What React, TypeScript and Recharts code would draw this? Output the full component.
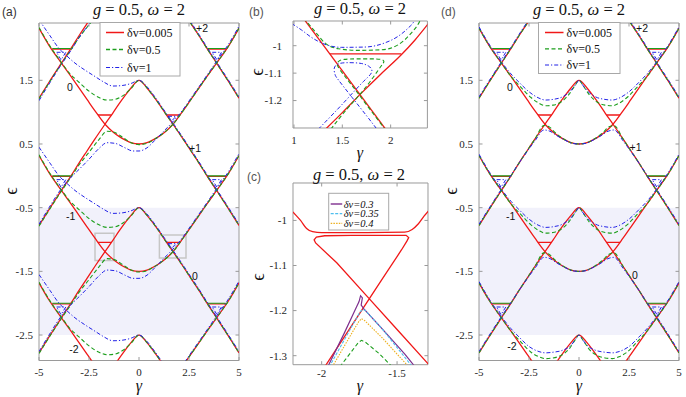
import React from 'react';
import { LineChart, Line, XAxis, YAxis, ReferenceArea } from 'recharts';

type P = [number, number];

// ---------- panel (a)/(d): shared gamma grid and red (dv=0.005) bands ----------
const gammaGrid = [-5, -4.5, -3.88, -3.4, -3, -2.6, -2.2, -1.7, -1.3, -1, -0.7, -0.4, 0, 0.4, 0.7, 1, 1.3, 1.7, 2.2, 2.6, 3, 3.4, 3.88, 4.5, 5];
const redU0 = [2.32, 2.05, 1.77, 1.56, 1.38, 1.2, 1.02, 0.81, 0.69, 0.62, 0.565, 0.52, 0.5, 0.52, 0.565, 0.62, 0.69, 0.81, 1.02, 1.2, 1.38, 1.56, 1.77, 2.05, 2.32];
const redUm1 = [0.32, 0.05, -0.23, -0.44, -0.62, -0.8, -0.98, -1.19, -1.31, -1.38, -1.435, -1.48, -1.5, -1.48, -1.435, -1.38, -1.31, -1.19, -0.98, -0.8, -0.62, -0.44, -0.23, 0.05, 0.32];
const redUm2 = [-1.68, -1.95, -2.23, -2.44, -2.62, -2.8, -2.98, -3.19, -3.31, -3.38, -3.435, -3.48, -3.5, -3.48, -3.435, -3.38, -3.31, -3.19, -2.98, -2.8, -2.62, -2.44, -2.23, -1.95, -1.68];
const redLp1 = [1.22, 1.47, 1.77, 2, 2.2, 2.39, 2.58, 2.81, 2.99, 3.13, 3.26, 3.38, 3.5, 3.38, 3.26, 3.13, 2.99, 2.81, 2.58, 2.39, 2.2, 2, 1.77, 1.47, 1.22];
const redL0 = [-0.78, -0.53, -0.23, 0, 0.2, 0.39, 0.58, 0.81, 0.99, 1.13, 1.26, 1.38, 1.5, 1.38, 1.26, 1.13, 0.99, 0.81, 0.58, 0.39, 0.2, 0, -0.23, -0.53, -0.78];
const redLm1 = [-2.78, -2.53, -2.23, -2, -1.8, -1.61, -1.42, -1.19, -1.01, -0.87, -0.74, -0.62, -0.5, -0.62, -0.74, -0.87, -1.01, -1.19, -1.42, -1.61, -1.8, -2, -2.23, -2.53, -2.78];
const redLm2 = [-4.78, -4.53, -4.23, -4, -3.8, -3.61, -3.42, -3.19, -3.01, -2.87, -2.74, -2.62, -2.5, -2.62, -2.74, -2.87, -3.01, -3.19, -3.42, -3.61, -3.8, -4, -4.23, -4.53, -4.78];

const redChords: P[][] = [
  [[-2.05, 0.955], [-1.38, 0.955]], [[1.38, 0.955], [2.05, 0.955]],
  [[-2.05, -1.045], [-1.38, -1.045]], [[1.38, -1.045], [2.05, -1.045]],
  [[-4.35, 1.99], [-3.42, 1.99]], [[3.42, 1.99], [4.35, 1.99]],
  [[-4.35, -0.01], [-3.42, -0.01]], [[3.42, -0.01], [4.35, -0.01]],
  [[-4.35, -2.01], [-3.42, -2.01]], [[3.42, -2.01], [4.35, -2.01]],
];
const greenChords: P[][] = [
  [[-4.33, 2.0], [-3.42, 2.0]], [[3.42, 2.0], [4.33, 2.0]],
  [[-4.33, 0.0], [-3.42, 0.0]], [[3.42, 0.0], [4.33, 0.0]],
  [[-4.33, -2.0], [-3.42, -2.0]], [[3.42, -2.0], [4.33, -2.0]],
];
const blueLoopsB: P[][] = [
  [[-4.12, 1.94], [-3.66, 1.94], [-3.9, 1.82], [-4.12, 1.94]], [[3.66, 1.94], [4.12, 1.94], [3.9, 1.82], [3.66, 1.94]],
  [[-4.12, -0.06], [-3.66, -0.06], [-3.9, -0.18], [-4.12, -0.06]], [[3.66, -0.06], [4.12, -0.06], [3.9, -0.18], [3.66, -0.06]],
  [[-4.12, -2.06], [-3.66, -2.06], [-3.9, -2.18], [-4.12, -2.06]], [[3.66, -2.06], [4.12, -2.06], [3.9, -2.18], [3.66, -2.06]],
];
const blueLoopsA: P[][] = [
  [[1.45, 0.935], [1.85, 0.935], [1.63, 0.86], [1.45, 0.935]],
  [[1.45, -1.065], [1.85, -1.065], [1.63, -1.14], [1.45, -1.065]],
];

// ---------- panel (a): green (dv=0.5) ----------
const gA_up0: P[] = [[-5, 2.33], [-4.5, 2.06], [-3.88, 1.78], [-3.5, 1.62], [-3, 1.47], [-2.5, 1.33], [-2, 1.23], [-1.6, 1.19], [-1.2, 1.2], [-0.8, 1.26], [-0.4, 1.37], [0, 1.5], [0.4, 1.38], [0.7, 1.26], [1, 1.13], [1.3, 0.99], [1.7, 0.81], [2.2, 0.58], [2.6, 0.39], [3, 0.2], [3.4, 0], [3.88, -0.23], [4.5, -0.53], [5, -0.78]];
const gA_lo0: P[] = [[-5, -0.79], [-4.5, -0.54], [-3.88, -0.24], [-3.4, -0.02], [-3, 0.17], [-2.5, 0.37], [-2, 0.57], [-1.6, 0.7], [-1.2, 0.68], [-0.8, 0.6], [-0.4, 0.52], [0, 0.49], [0.4, 0.51], [0.7, 0.56], [1, 0.62], [1.3, 0.69], [1.7, 0.81], [2.2, 1.02], [2.6, 1.2], [3, 1.38], [3.4, 1.56], [3.88, 1.77], [4.5, 2.05], [5, 2.32]];
const gA_up1: P[] = [[-5, 0.33], [-4.5, 0.06], [-3.88, -0.22], [-3.5, -0.38], [-3, -0.53], [-2.5, -0.67], [-2, -0.77], [-1.6, -0.81], [-1.2, -0.8], [-0.8, -0.74], [-0.4, -0.63], [0, -0.5], [0.4, -0.62], [0.7, -0.74], [1, -0.87], [1.3, -1.01], [1.7, -1.19], [2.2, -1.42], [2.6, -1.61], [3, -1.8], [3.4, -2], [3.88, -2.23], [4.5, -2.53], [5, -2.78]];
const gA_lo1: P[] = [[-5, -2.79], [-4.5, -2.54], [-3.88, -2.24], [-3.4, -2.02], [-3, -1.83], [-2.5, -1.63], [-2, -1.43], [-1.6, -1.3], [-1.2, -1.32], [-0.8, -1.4], [-0.4, -1.48], [0, -1.51], [0.4, -1.49], [0.7, -1.44], [1, -1.38], [1.3, -1.31], [1.7, -1.19], [2.2, -0.98], [2.6, -0.8], [3, -0.62], [3.4, -0.44], [3.88, -0.23], [4.5, 0.05], [5, 0.32]];
const gA_up2: P[] = [[-5, -1.67], [-4.5, -1.94], [-3.88, -2.22], [-3.5, -2.38], [-3, -2.53], [-2.5, -2.67], [-2, -2.77], [-1.6, -2.81], [-1.2, -2.8], [-0.8, -2.74], [-0.4, -2.63], [0, -2.5], [0.4, -2.62], [0.7, -2.74], [1, -2.87], [1.3, -3.01], [1.7, -3.19]];
const gA_lo2: P[] = [[1.7, -3.19], [2.2, -2.98], [2.6, -2.8], [3, -2.62], [3.4, -2.44], [3.88, -2.23], [4.5, -1.95], [5, -1.68]];
const gA_p1L: P[] = [[-5, 1.21], [-4.5, 1.46], [-3.88, 1.76], [-3.4, 1.98], [-3, 2.17], [-2.5, 2.37], [-2, 2.57]];
const gA_p1R: P[] = [[2.2, 2.58], [2.6, 2.39], [3, 2.2], [3.4, 2], [3.88, 1.77], [4.5, 1.47], [5, 1.22]];

// ---------- panel (a): blue (dv=1) ----------
const bA_up0: P[] = [[-5, 2.45], [-4.45, 2.2], [-4, 2.0], [-3.6, 1.88], [-3.2, 1.77], [-2.7, 1.66], [-2.2, 1.56], [-1.8, 1.48], [-1.3, 1.41], [-0.8, 1.42], [-0.4, 1.45], [0, 1.5], [0.4, 1.4], [0.7, 1.28], [1, 1.15], [1.3, 1.01], [1.7, 0.83], [2.2, 0.6], [2.6, 0.41], [3, 0.22], [3.4, 0.02], [3.88, -0.21], [4.5, -0.51], [5, -0.76]];
const bA_lo0: P[] = [[-5, -0.76], [-4.5, -0.5], [-3.88, -0.2], [-3.33, 0], [-3, 0.1], [-2.5, 0.26], [-2, 0.43], [-1.6, 0.52], [-1.2, 0.51], [-0.7, 0.44], [-0.3, 0.39], [0, 0.39], [0.4, 0.44], [0.8, 0.56], [1.2, 0.69], [1.7, 0.85], [2.2, 1.04], [2.6, 1.22], [3, 1.4], [3.4, 1.58], [3.88, 1.8], [4.5, 2.08], [5, 2.35]];
const bA_up1: P[] = [[-5, 0.45], [-4.45, 0.2], [-4, 0.0], [-3.6, -0.12], [-3.2, -0.23], [-2.7, -0.34], [-2.2, -0.44], [-1.8, -0.52], [-1.3, -0.59], [-0.8, -0.58], [-0.4, -0.55], [0, -0.5], [0.4, -0.6], [0.7, -0.72], [1, -0.85], [1.3, -0.99], [1.7, -1.17], [2.2, -1.4], [2.6, -1.59], [3, -1.78], [3.4, -1.98], [3.88, -2.21], [4.5, -2.51], [5, -2.76]];
const bA_lo1: P[] = [[-5, -2.76], [-4.5, -2.5], [-3.88, -2.2], [-3.33, -2.0], [-3, -1.9], [-2.5, -1.74], [-2, -1.57], [-1.6, -1.48], [-1.2, -1.49], [-0.7, -1.56], [-0.3, -1.61], [0, -1.61], [0.4, -1.56], [0.8, -1.44], [1.2, -1.31], [1.7, -1.15], [2.2, -0.96], [2.6, -0.78], [3, -0.6], [3.4, -0.42], [3.88, -0.2], [4.5, 0.08], [5, 0.35]];
const bA_up2: P[] = [[-5, -1.55], [-4.45, -1.8], [-4, -2.0], [-3.6, -2.12], [-3.2, -2.23], [-2.7, -2.34], [-2.2, -2.44], [-1.8, -2.52], [-1.3, -2.59], [-0.8, -2.58], [-0.4, -2.55], [0, -2.5], [0.4, -2.6], [0.7, -2.72], [1, -2.85], [1.3, -2.99], [1.7, -3.17]];
const bA_lo2: P[] = [[1.7, -3.15], [2.2, -2.96], [2.6, -2.78], [3, -2.6], [3.4, -2.42], [3.88, -2.2], [4.5, -1.92], [5, -1.65]];
const bA_p1L: P[] = [[-5, 1.18], [-4.5, 1.44], [-3.88, 1.75], [-3.4, 1.97], [-3, 2.17], [-2.5, 2.38], [-2, 2.6]];
const bA_p1R: P[] = [[2.2, 2.6], [2.6, 2.41], [3, 2.22], [3.4, 2.02], [3.88, 1.79], [4.5, 1.49], [5, 1.24]];

// ---------- panel (d): green (dv=0.5) ----------
const gD_up0: P[] = [[-5, 2.32], [-4.5, 2.05], [-3.88, 1.77], [-3.4, 1.56], [-2.9, 1.39], [-2.4, 1.23], [-2, 1.14], [-1.67, 1.1], [-1.3, 1.11], [-0.9, 1.16], [-0.5, 1.28], [-0.2, 1.42], [0, 1.5], [0.2, 1.42], [0.5, 1.28], [0.9, 1.16], [1.3, 1.11], [1.67, 1.1], [2, 1.14], [2.4, 1.23], [2.9, 1.39], [3.4, 1.56], [3.88, 1.77], [4.5, 2.05], [5, 2.32]];
const gD_lo0: P[] = [[-5, -0.78], [-4.5, -0.53], [-3.88, -0.23], [-3.4, 0], [-3, 0.2], [-2.6, 0.39], [-2.2, 0.58], [-1.75, 0.79], [-1.5, 0.77], [-1.2, 0.68], [-0.8, 0.585], [-0.4, 0.52], [0, 0.5], [0.4, 0.52], [0.8, 0.585], [1.2, 0.68], [1.5, 0.77], [1.75, 0.79], [2.2, 0.58], [2.6, 0.39], [3, 0.2], [3.4, 0], [3.88, -0.23], [4.5, -0.53], [5, -0.78]];
const gD_up1: P[] = [[-5, 0.32], [-4.5, 0.05], [-3.88, -0.23], [-3.4, -0.44], [-2.9, -0.61], [-2.4, -0.77], [-2, -0.86], [-1.67, -0.9], [-1.3, -0.89], [-0.9, -0.84], [-0.5, -0.72], [-0.2, -0.58], [0, -0.5], [0.2, -0.58], [0.5, -0.72], [0.9, -0.84], [1.3, -0.89], [1.67, -0.9], [2, -0.86], [2.4, -0.77], [2.9, -0.61], [3.4, -0.44], [3.88, -0.23], [4.5, 0.05], [5, 0.32]];
const gD_lo1: P[] = [[-5, -2.78], [-4.5, -2.53], [-3.88, -2.23], [-3.4, -2], [-3, -1.8], [-2.6, -1.61], [-2.2, -1.42], [-1.75, -1.21], [-1.5, -1.23], [-1.2, -1.32], [-0.8, -1.415], [-0.4, -1.48], [0, -1.5], [0.4, -1.48], [0.8, -1.415], [1.2, -1.32], [1.5, -1.23], [1.75, -1.21], [2.2, -1.42], [2.6, -1.61], [3, -1.8], [3.4, -2], [3.88, -2.23], [4.5, -2.53], [5, -2.78]];
const gD_up2: P[] = [[-5, -1.68], [-4.5, -1.95], [-3.88, -2.23], [-3.4, -2.44], [-2.9, -2.61], [-2.4, -2.77], [-2, -2.84], [-1.67, -2.87], [-1.3, -2.86], [-0.9, -2.82], [-0.5, -2.72], [-0.2, -2.58], [0, -2.5], [0.2, -2.58], [0.5, -2.72], [0.9, -2.82], [1.3, -2.86], [1.67, -2.87], [2, -2.84], [2.4, -2.77], [2.9, -2.61], [3.4, -2.44], [3.88, -2.23], [4.5, -1.95], [5, -1.68]];
const gD_p1L: P[] = [[-5, 1.22], [-4.5, 1.47], [-3.88, 1.77], [-3.4, 2], [-3, 2.2], [-2.6, 2.39], [-2.2, 2.58]];
const gD_p1R: P[] = [[2.2, 2.58], [2.6, 2.39], [3, 2.2], [3.4, 2], [3.88, 1.77], [4.5, 1.47], [5, 1.22]];

// ---------- panel (d): blue (dv=1) ----------
const bD_up0: P[] = [[-5, 2.34], [-4.5, 2.07], [-3.88, 1.79], [-3.4, 1.6], [-3, 1.47], [-2.5, 1.32], [-2, 1.22], [-1.67, 1.19], [-1.3, 1.2], [-0.83, 1.24], [-0.4, 1.34], [-0.15, 1.44], [0, 1.5], [0.15, 1.44], [0.4, 1.34], [0.83, 1.24], [1.3, 1.2], [1.67, 1.19], [2, 1.22], [2.5, 1.32], [3, 1.47], [3.4, 1.6], [3.88, 1.79], [4.5, 2.07], [5, 2.34]];
const bD_lo0: P[] = [[-5, -0.76], [-4.5, -0.51], [-3.88, -0.21], [-3.4, 0.01], [-3, 0.2], [-2.6, 0.38], [-2.2, 0.55], [-1.75, 0.72], [-1.45, 0.7], [-1.1, 0.63], [-0.7, 0.56], [-0.35, 0.51], [0, 0.5], [0.35, 0.51], [0.7, 0.56], [1.1, 0.63], [1.45, 0.7], [1.75, 0.72], [2.2, 0.55], [2.6, 0.38], [3, 0.2], [3.4, 0.01], [3.88, -0.21], [4.5, -0.51], [5, -0.76]];
const bD_up1: P[] = [[-5, 0.34], [-4.5, 0.07], [-3.88, -0.21], [-3.4, -0.4], [-3, -0.53], [-2.5, -0.68], [-2, -0.78], [-1.67, -0.81], [-1.3, -0.8], [-0.83, -0.76], [-0.4, -0.66], [-0.15, -0.56], [0, -0.5], [0.15, -0.56], [0.4, -0.66], [0.83, -0.76], [1.3, -0.8], [1.67, -0.81], [2, -0.78], [2.5, -0.68], [3, -0.53], [3.4, -0.4], [3.88, -0.21], [4.5, 0.07], [5, 0.34]];
const bD_lo1: P[] = [[-5, -2.76], [-4.5, -2.51], [-3.88, -2.21], [-3.4, -1.99], [-3, -1.8], [-2.6, -1.62], [-2.2, -1.45], [-1.75, -1.28], [-1.45, -1.3], [-1.1, -1.37], [-0.7, -1.44], [-0.35, -1.49], [0, -1.5], [0.35, -1.49], [0.7, -1.44], [1.1, -1.37], [1.45, -1.3], [1.75, -1.28], [2.2, -1.45], [2.6, -1.62], [3, -1.8], [3.4, -1.99], [3.88, -2.21], [4.5, -2.51], [5, -2.76]];
const bD_up2: P[] = [[-5, -1.66], [-4.5, -1.93], [-3.88, -2.21], [-3.4, -2.4], [-3, -2.53], [-2.5, -2.68], [-2, -2.76], [-1.67, -2.78], [-1.3, -2.77], [-0.83, -2.74], [-0.4, -2.66], [-0.15, -2.56], [0, -2.5], [0.15, -2.56], [0.4, -2.66], [0.83, -2.74], [1.3, -2.77], [1.67, -2.78], [2, -2.76], [2.5, -2.68], [3, -2.53], [3.4, -2.4], [3.88, -2.21], [4.5, -1.93], [5, -1.66]];
const bD_p1L: P[] = [[-5, 1.24], [-4.5, 1.49], [-3.88, 1.79], [-3.4, 2.02], [-3, 2.22], [-2.6, 2.41], [-2.2, 2.6]];
const bD_p1R: P[] = [[2.2, 2.6], [2.6, 2.41], [3, 2.22], [3.4, 2.02], [3.88, 1.79], [4.5, 1.49], [5, 1.24]];

// ---------- panel (b) ----------
const bRedLine1: P[] = [[1.07, -0.887], [1.96, -1.31]];
const bRedLine2: P[] = [[1.31, -1.31], [1.5, -1.244], [1.7, -1.172], [1.9, -1.103], [2.11, -1.033], [2.25, -0.98], [2.4, -0.915]];
const bRedChord: P[] = [[1.372, -1.03], [2.11, -1.03]];
const bGreenTop: P[] = [[1.1, -0.9], [1.217, -0.948], [1.32, -0.99], [1.457, -1.011], [1.664, -1.017], [1.904, -1.015], [2.076, -0.997], [2.21, -0.955], [2.3, -0.912], [2.31, -0.905]];
const bGreenLoop: P[] = [[1.38, -1.305], [1.55, -1.23], [1.7, -1.17], [1.82, -1.115], [1.9, -1.075], [1.93, -1.058], [1.9, -1.05], [1.8, -1.048], [1.65, -1.048], [1.52, -1.05], [1.46, -1.058], [1.45, -1.07], [1.48, -1.09], [1.6, -1.145], [1.75, -1.215], [1.9, -1.285], [1.94, -1.305]];
const bBlueTop: P[] = [[0.976, -0.919], [1.079, -0.943], [1.182, -0.97], [1.32, -0.995], [1.49, -1.006], [1.73, -1.005], [1.938, -0.99], [2.076, -0.966], [2.18, -0.936], [2.24, -0.912], [2.25, -0.905]];
const bBlueLoop: P[] = [[1.25, -1.305], [1.45, -1.232], [1.6, -1.175], [1.72, -1.13], [1.79, -1.105], [1.805, -1.088], [1.77, -1.074], [1.7, -1.065], [1.6, -1.062], [1.5, -1.063], [1.44, -1.07], [1.415, -1.085], [1.425, -1.105], [1.46, -1.125], [1.6, -1.188], [1.75, -1.255], [1.86, -1.305]];

// ---------- panel (c) ----------
const cRedTop: P[] = [[-2.2, -0.978], [-2.183, -0.984], [-2.14, -1.0], [-2.1, -1.018], [-2.06, -1.025], [-2.0, -1.027], [-1.7, -1.027], [-1.45, -1.026], [-1.4, -1.02], [-1.36, -1.008], [-1.32, -0.99], [-1.29, -0.978]];
const cRedLoop: P[] = [[-1.98, -1.325], [-1.8, -1.233], [-1.6, -1.131], [-1.47, -1.065], [-1.435, -1.046], [-1.423, -1.038], [-1.44, -1.033], [-1.6, -1.033], [-1.8, -1.033], [-1.98, -1.034], [-2.035, -1.037], [-2.05, -1.043], [-2.04, -1.05], [-1.9, -1.094], [-1.7, -1.168], [-1.5, -1.242], [-1.3, -1.316], [-1.28, -1.324]];
const cGreen: P[] = [[-1.88, -1.325], [-1.8, -1.29], [-1.755, -1.27], [-1.735, -1.266], [-1.71, -1.27], [-1.62, -1.295], [-1.54, -1.322]];
const cPurple: P[] = [[-1.96, -1.325], [-1.85, -1.25], [-1.78, -1.2], [-1.752, -1.18], [-1.742, -1.167], [-1.73, -1.172], [-1.738, -1.188], [-1.72, -1.196], [-1.6, -1.24], [-1.45, -1.296], [-1.38, -1.325]];
const cCyan: P[] = [[-1.95, -1.325], [-1.8, -1.235], [-1.745, -1.203], [-1.728, -1.197], [-1.71, -1.2], [-1.6, -1.24], [-1.405, -1.322]];
const cOrange: P[] = [[-1.93, -1.325], [-1.8, -1.25], [-1.755, -1.225], [-1.737, -1.218], [-1.715, -1.222], [-1.6, -1.26], [-1.43, -1.322]];

// ---------- ticks and labels ----------
const ticksADx = [-5, -2.5, 0, 2.5, 5];
const ticksADy = [1.5, 0.5, -0.5, -1.5, -2.5];
const ticksBx = [1, 1.5, 2];
const ticksBy = [-1, -1.1, -1.2];
const ticksCx = [-2, -1.5];
const ticksCy = [-1, -1.1, -1.2, -1.3];
const legendMain = ['\u03b4v=0.005', '\u03b4v=0.5', '\u03b4v=1'];
const legendC = ['\u03b4v=0.3', '\u03b4v=0.35', '\u03b4v=0.4'];
const bandLabels = ['0', '+2', '+1', '-1', '0', '-2'];

// ---------- style ----------
const SERIF = 'Liberation Serif, DejaVu Serif, serif';
const SANS = 'Liberation Sans, DejaVu Sans, sans-serif';
const AX = '#9a9a9a';
const TXT = '#262626';
const RED = '#f01818';
const GREEN = '#1c9e1c';
const BLUE = '#2323e6';
const PURPLE = '#7e2f8e';
const CYAN = '#4dbeee';
const ORANGE = '#edb120';
const SHADE = '#f1f1fb';
const BOXGRAY = '#c6c6c6';

type Sty = { c: string; w: number; d?: string };
const S_RED: Sty = { c: RED, w: 1.3 };
const S_GREEN: Sty = { c: GREEN, w: 1.1, d: '4 2.5' };
const S_BLUE: Sty = { c: BLUE, w: 1, d: '4 2 1.2 2' };
const S_PURPLE: Sty = { c: PURPLE, w: 1.2 };
const S_CYAN: Sty = { c: CYAN, w: 1.1, d: '3 1.5' };
const S_ORANGE: Sty = { c: ORANGE, w: 1.1, d: '1.5 1.2' };

const pts = (a: P[]) => a.map(([x, y]) => ({ x, y }));
const onGrid = (ys: number[]) => gammaGrid.map((x, i) => ({ x, y: ys[i] }));

function mkLine(key: string, data: { x: number; y: number }[], s: Sty, type: string = 'monotone') {
  return (
    <Line key={key} data={data} dataKey="y" type={type as any} stroke={s.c} strokeWidth={s.w}
      strokeDasharray={s.d} dot={false} activeDot={false} isAnimationActive={false} legendType="none" />
  );
}

type PanelProps = {
  left: number; top: number; w: number; h: number;
  xd: [number, number]; yd: [number, number]; xt: number[]; yt: number[];
  yGap: number; xDy: number; children: React.ReactNode;
};

function Panel({ left, top, w, h, xd, yd, xt, yt, yGap, xDy, children }: PanelProps) {
  const ML = 40, MT = 6, MR = 10, MB = 4, XH = 22;
  const W = ML + w + MR;
  const H = MT + h + XH + MB;
  const yTick = (p: any) => {
    const { x, y, payload } = p;
    return (
      <g>
        <line x1={x} x2={x + 3.5} y1={y} y2={y} stroke={AX} />
        <line x1={x + w - 3.5} x2={x + w} y1={y} y2={y} stroke={AX} />
        <text x={x - yGap} y={y} dy="0.35em" textAnchor="end" fontFamily={SERIF} fontSize={11} fill={TXT}>{String(payload.value)}</text>
      </g>
    );
  };
  const xTick = (p: any) => {
    const { x, y, payload } = p;
    return (
      <g>
        <line x1={x} x2={x} y1={y} y2={y - 3.5} stroke={AX} />
        <line x1={x} x2={x} y1={y - h} y2={y - h + 3.5} stroke={AX} />
        <text x={x} y={y + xDy} dy="0.35em" textAnchor="middle" fontFamily={SERIF} fontSize={11} fill={TXT}>{String(payload.value)}</text>
      </g>
    );
  };
  return (
    <div style={{ position: 'absolute', left: left - ML, top: top - MT, width: W, height: H }}>
      <LineChart width={W} height={H} margin={{ top: MT, right: MR, bottom: MB, left: 0 }}>
        <XAxis type="number" dataKey="x" domain={xd} ticks={xt} interval={0} allowDataOverflow
          tickSize={0} tickMargin={0} axisLine={false} tickLine={false} tick={xTick} height={XH} />
        <YAxis type="number" dataKey="y" domain={yd} ticks={yt} interval={0} allowDataOverflow
          tickSize={0} tickMargin={0} axisLine={false} tickLine={false} tick={yTick} width={ML} />
        {children}
        <ReferenceArea x1={xd[0]} x2={xd[1]} y1={yd[0]} y2={yd[1]} fill="none" stroke={AX} strokeWidth={1} ifOverflow="visible" />
      </LineChart>
    </div>
  );
}

function redBands(prefix: string) {
  return [
    mkLine(prefix + 'u0', onGrid(redU0), S_RED),
    mkLine(prefix + 'um1', onGrid(redUm1), S_RED),
    mkLine(prefix + 'um2', onGrid(redUm2), S_RED),
    mkLine(prefix + 'lp1', onGrid(redLp1), S_RED),
    mkLine(prefix + 'l0', onGrid(redL0), S_RED),
    mkLine(prefix + 'lm1', onGrid(redLm1), S_RED),
    mkLine(prefix + 'lm2', onGrid(redLm2), S_RED),
    ...redChords.map((c, i) => mkLine(prefix + 'rc' + i, pts(c), S_RED, 'linear')),
  ];
}

function panelA() {
  const green = [gA_up0, gA_lo0, gA_up1, gA_lo1, gA_up2, gA_lo2, gA_p1L, gA_p1R];
  const blue = [bA_up0, bA_lo0, bA_up1, bA_lo1, bA_up2, bA_lo2, bA_p1L, bA_p1R];
  return [
    <ReferenceArea key="shade" x1={-5} x2={5} y1={-2.5} y2={-0.5} fill={SHADE} fillOpacity={1} stroke="none" />,
    <ReferenceArea key="box1" x1={-2.2} x2={-1.25} y1={-1.33} y2={-0.9} fill="none" stroke={BOXGRAY} strokeWidth={1.5} />,
    <ReferenceArea key="box2" x1={1.02} x2={2.35} y1={-1.29} y2={-0.93} fill="none" stroke={BOXGRAY} strokeWidth={1.5} />,
    ...redBands('a'),
    ...green.map((g, i) => mkLine('ag' + i, pts(g), S_GREEN)),
    ...greenChords.map((c, i) => mkLine('agc' + i, pts(c), { c: GREEN, w: 1.1 }, 'linear')),
    ...blue.map((b, i) => mkLine('ab' + i, pts(b), S_BLUE)),
    ...blueLoopsB.map((c, i) => mkLine('abl' + i, pts(c), S_BLUE, 'linear')),
    ...blueLoopsA.map((c, i) => mkLine('aba' + i, pts(c), S_BLUE, 'linear')),
  ];
}

function panelD() {
  const green = [gD_up0, gD_lo0, gD_up1, gD_lo1, gD_up2, gD_p1L, gD_p1R];
  const blue = [bD_up0, bD_lo0, bD_up1, bD_lo1, bD_up2, bD_p1L, bD_p1R];
  return [
    <ReferenceArea key="shade" x1={-5} x2={5} y1={-2.5} y2={-0.5} fill={SHADE} fillOpacity={1} stroke="none" />,
    ...redBands('d'),
    ...green.map((g, i) => mkLine('dg' + i, pts(g), S_GREEN)),
    ...greenChords.map((c, i) => mkLine('dgc' + i, pts(c), { c: GREEN, w: 1.1 }, 'linear')),
    ...blue.map((b, i) => mkLine('db' + i, pts(b), S_BLUE)),
    ...blueLoopsB.map((c, i) => mkLine('dbl' + i, pts(c), S_BLUE, 'linear')),
  ];
}

function panelB() {
  return [
    mkLine('br1', pts(bRedLine1), S_RED, 'linear'),
    mkLine('br2', pts(bRedLine2), S_RED, 'monotone'),
    mkLine('brc', pts(bRedChord), S_RED, 'linear'),
    mkLine('bgt', pts(bGreenTop), S_GREEN, 'monotone'),
    mkLine('bgl', pts(bGreenLoop), S_GREEN, 'natural'),
    mkLine('bbt', pts(bBlueTop), S_BLUE, 'monotone'),
    mkLine('bbl', pts(bBlueLoop), S_BLUE, 'natural'),
  ];
}

function panelC() {
  return [
    mkLine('crt', pts(cRedTop), S_RED, 'monotone'),
    mkLine('crl', pts(cRedLoop), S_RED, 'linear'),
    mkLine('cg', pts(cGreen), S_GREEN, 'linear'),
    mkLine('cp', pts(cPurple), S_PURPLE, 'linear'),
    mkLine('cc', pts(cCyan), S_CYAN, 'linear'),
    mkLine('co', pts(cOrange), S_ORANGE, 'linear'),
  ];
}

function Title({ cx, y }: { cx: number; y: number }) {
  return (
    <text x={cx} y={y} textAnchor="middle" fontFamily={SERIF} fontSize={16.5} fill="#111">
      <tspan fontStyle="italic">g</tspan>{' = 0.5, '}<tspan fontStyle="italic">{'\u03c9'}</tspan>{' = 2'}
    </text>
  );
}

function Legend({ x, y, w, h, rows, labels, styles, lx1, lx2, tx, fs, italic }: any) {
  return (
    <g>
      <rect x={x} y={y} width={w} height={h} fill="#fff" stroke="#a8a8a8" strokeWidth={1} />
      {labels.map((lab: string, i: number) => (
        <g key={i}>
          <line x1={x + lx1} x2={x + lx2} y1={rows[i]} y2={rows[i]} stroke={styles[i].c} strokeWidth={styles[i].w + 0.2} strokeDasharray={styles[i].d} />
          <text x={x + tx} y={rows[i]} dy="0.35em" fontFamily={SERIF} fontSize={fs} fontStyle={italic ? 'italic' : 'normal'} fill="#111">{lab}</text>
        </g>
      ))}
    </g>
  );
}

function Eps({ x, y }: { x: number; y: number }) {
  return (
    <text transform={`translate(${x},${y}) rotate(-90)`} textAnchor="middle" dy="0.35em" fontFamily={SERIF} fontSize={18} fill="#111">{'\u03f5'}</text>
  );
}
function Gam({ x, y }: { x: number; y: number }) {
  return (
    <text x={x} y={y} textAnchor="middle" dy="0.3em" fontFamily={SERIF} fontStyle="italic" fontSize={16} fill="#111">{'\u03b3'}</text>
  );
}

function Overlay() {
  const bandPosA: P[] = [[70, 87.5], [202, 28.5], [195, 148], [70.7, 216], [195, 276], [74, 349]];
  const bandPosD: P[] = [[510, 87.5], [642, 28.5], [635.5, 147], [510.7, 216], [635, 275.5], [512, 346]];
  return (
    <svg width={686} height={397} style={{ position: 'absolute', left: 0, top: 0, pointerEvents: 'none' }}>
      <Title cx={139} y={14.5} />
      <Title cx={360} y={13.5} />
      <Title cx={359} y={179.5} />
      <Title cx={579} y={14.5} />
      <text x={2} y={16} fontFamily={SANS} fontSize={12} fill="#333">(a)</text>
      <text x={249} y={16} fontFamily={SANS} fontSize={12} fill="#555">(b)</text>
      <text x={247} y={181} fontFamily={SANS} fontSize={12} fill="#555">(c)</text>
      <text x={441} y={16} fontFamily={SANS} fontSize={12} fill="#555">(d)</text>
      <Eps x={11} y={191} />
      <Eps x={257} y={72} />
      <Eps x={258} y={277} />
      <Eps x={451} y={191} />
      <Gam x={139} y={386} />
      <Gam x={360} y={153} />
      <Gam x={360} y={386} />
      <Gam x={579} y={386} />
      {bandLabels.map((t, i) => (
        <text key={'la' + i} x={bandPosA[i][0]} y={bandPosA[i][1]} dy="0.35em" textAnchor="middle" fontFamily={SANS} fontSize={10.5} fill="#111">{t}</text>
      ))}
      {bandLabels.map((t, i) => (
        <text key={'ld' + i} x={bandPosD[i][0]} y={bandPosD[i][1]} dy="0.35em" textAnchor="middle" fontFamily={SANS} fontSize={10.5} fill="#111">{t}</text>
      ))}
      <Legend x={100} y={22.5} w={80} h={53.5} rows={[32.5, 49.5, 67.5]} labels={legendMain}
        styles={[S_RED, S_GREEN, S_BLUE]} lx1={6} lx2={24} tx={27} fs={12} italic={false} />
      <Legend x={538.5} y={22.5} w={81.5} h={51} rows={[32.5, 48.8, 65]} labels={legendMain}
        styles={[S_RED, S_GREEN, S_BLUE]} lx1={6.5} lx2={25} tx={28} fs={12} italic={false} />
      <Legend x={328.7} y={193.3} w={60} h={36.7} rows={[204, 213.6, 223.3]} labels={legendC}
        styles={[S_PURPLE, S_CYAN, S_ORANGE]} lx1={2} lx2={13.5} tx={15} fs={10.5} italic={true} />
    </svg>
  );
}

export default function App() {
  return (
    <div style={{ position: 'absolute', left: 0, top: 0, width: 686, height: 397, background: '#fff', overflow: 'hidden' }}>
      <Panel left={39} top={22.5} w={200} h={337.5} xd={[-5, 5]} yd={[-2.9, 2.4]} xt={ticksADx} yt={ticksADy} yGap={6} xDy={11.7}>
        {panelA()}
      </Panel>
      <Panel left={293.3} top={20.7} w={134.4} h={107} xd={[0.99, 2.38]} yd={[-1.3, -0.91]} xt={ticksBx} yt={ticksBy} yGap={11} xDy={12}>
        {panelB()}
      </Panel>
      <Panel left={292.7} top={183.3} w={135} h={181.7} xd={[-2.19, -1.295]} yd={[-1.32, -0.917]} xt={ticksCx} yt={ticksCy} yGap={6} xDy={8}>
        {panelC()}
      </Panel>
      <Panel left={479} top={22.5} w={200} h={337.5} xd={[-5, 5]} yd={[-2.9, 2.4]} xt={ticksADx} yt={ticksADy} yGap={6} xDy={11.7}>
        {panelD()}
      </Panel>
      <Overlay />
    </div>
  );
}
